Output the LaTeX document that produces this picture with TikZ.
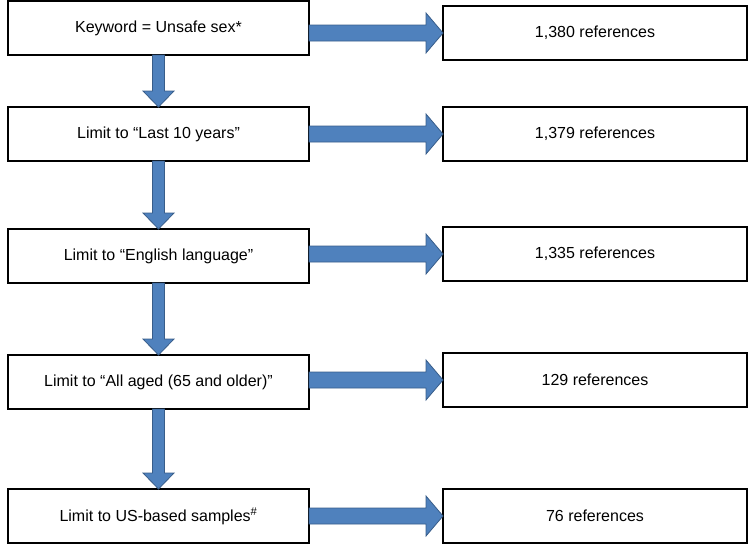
\documentclass[tikz,border=0pt]{standalone}
\usepackage{fontspec}
\setmainfont{Liberation Sans}
\usetikzlibrary{positioning, calc}
\definecolor{arrowblue}{HTML}{4F81BD}
\definecolor{arrowedge}{HTML}{385D8A}

% block arrow going down from one box to the next
\newcommand{\fatdown}[2]{%
  \path[fat] let \p1=(#1.south), \p2=(#2.north) in
    (\x1-6pt,\y1) -- (\x1-6pt,\y2+16pt) -- (\x1-15.5pt,\y2+16pt) -- (\x1,\y2)
    -- (\x1+15.5pt,\y2+16pt) -- (\x1+6pt,\y2+16pt) -- (\x1+6pt,\y1) -- cycle;}
% block arrow going right, to the result box
\newcommand{\fatright}[2]{%
  \path[fat] let \p1=(#1.east), \p2=(#2.west) in
    (\x1,\y2+8pt) -- (\x2-17pt,\y2+8pt) -- (\x2-17pt,\y2+20pt) -- (\x2,\y2)
    -- (\x2-17pt,\y2-20pt) -- (\x2-17pt,\y2-8pt) -- (\x1,\y2-8pt) -- cycle;}

\begin{document}
\begin{tikzpicture}[
  x=1pt, y=1pt,
  box/.style={draw, line width=1.5pt, minimum height=54pt, inner sep=0pt,
              outer sep=0pt, font=\fontsize{16}{19}\selectfont},
  limit/.style={box, minimum width=301pt},
  result/.style={box, minimum width=304pt},
  fat/.style={fill=arrowblue, draw=arrowedge, line width=0.8pt},
]
  \useasboundingbox (0,0) rectangle (751,-547);

  \node[limit] (k0) at (158.5,-28) {Keyword = Unsafe sex*};
  \node[limit, below=52pt of k0] (k1) {Limit to “Last 10 years”};
  \node[limit, below=68pt of k1] (k2) {Limit to “English language”};
  \node[limit, below=72pt of k2] (k3) {Limit to “All aged (65 and older)”};
  \node[limit, below=80pt of k3] (k4) {Limit to US-based samples\textsuperscript{\#}};

  \node[result, right=134pt of k0, yshift=-5pt] (n0) {1,380 references};
  \node[result, right=134pt of k1] (n1) {1,379 references};
  \node[result, right=134pt of k2, yshift=2pt] (n2) {1,335 references};
  \node[result, right=134pt of k3, yshift=2pt] (n3) {129 references};
  \node[result, right=134pt of k4] (n4) {76 references};

  \fatdown{k0}{k1}
  \fatdown{k1}{k2}
  \fatdown{k2}{k3}
  \fatdown{k3}{k4}

  \fatright{k0}{n0}
  \fatright{k1}{n1}
  \fatright{k2}{n2}
  \fatright{k3}{n3}
  \fatright{k4}{n4}
\end{tikzpicture}
\end{document}
